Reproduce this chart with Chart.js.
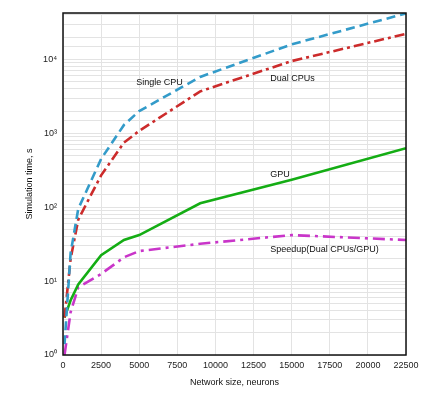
<!DOCTYPE html>
<html>
<head>
<meta charset="utf-8">
<script src="https://cdn.jsdelivr.net/npm/chart.js@4.4.0/dist/chart.umd.min.js"></script>
<style>
  html, body { margin: 0; padding: 0; background: #fff; }
  canvas { display: block; }
</style>
</head>
<body>
<canvas id="chart" width="438" height="398"></canvas>
<script>
// network sizes (neurons)
const networkSizes = [100, 500, 1000, 2500, 4000, 5000, 9000, 15000, 22500]

// simulation time, s
const singleCpu = [1.4, 24, 95, 450, 1300, 2000, 5800, 16000, 42000]
const dualCpus = [3.2, 20, 68, 270, 750, 1080, 3700, 9500, 22200]
const gpu = [3.2, 5.5, 9, 22.4, 36, 42, 113, 235, 630]
const speedup = [1.0, 3.8, 8.2, 12.5, 21, 25.5, 32, 42, 36]

const xTicks = [0, 2500, 5000, 7500, 10000, 12500, 15000, 17500, 20000, 22500]
const supers = { 0: '⁰', 1: '¹', 2: '²', 3: '³', 4: '⁴' }

// text labels next to the curves: [text, x, y]
const curveLabels = [
  ['Single CPU', 4800, 4900],
  ['Dual CPUs', 13600, 5500],
  ['GPU', 13600, 280],
  ['Speedup(Dual CPUs/GPU)', 13600, 27],
]

const toPoints = (values) => networkSizes.map((x, i) => ({ x, y: values[i] }))

const FONT = 'Liberation Sans, Arial, sans-serif'

const frameAndLabels = {
  id: 'frameAndLabels',
  afterDatasetsDraw(chart) {
    const { ctx, chartArea, scales } = chart
    ctx.save()
    ctx.font = `9px ${FONT}`
    ctx.fillStyle = '#111'
    ctx.textBaseline = 'middle'
    ctx.textAlign = 'left'
    curveLabels.forEach(([text, x, y]) => {
      ctx.fillText(text, scales.x.getPixelForValue(x), scales.y.getPixelForValue(y))
    })
    ctx.strokeStyle = '#111'
    ctx.lineWidth = 1.5
    ctx.strokeRect(chartArea.left, chartArea.top, chartArea.right - chartArea.left, chartArea.bottom - chartArea.top)
    ctx.restore()
  }
}

const chart = new Chart(document.getElementById('chart'), {
  type: 'line',
  data: {
    datasets: [
      {
        label: 'Single CPU',
        data: toPoints(singleCpu),
        borderColor: '#339bc9',
        borderWidth: 2.6,
        borderDash: [9, 5],
      },
      {
        label: 'Dual CPUs',
        data: toPoints(dualCpus),
        borderColor: '#cc2b2b',
        borderWidth: 2.6,
        borderDash: [10, 4, 3, 4],
      },
      {
        label: 'GPU',
        data: toPoints(gpu),
        borderColor: '#14ad14',
        borderWidth: 2.6,
      },
      {
        label: 'Speedup(Dual CPUs/GPU)',
        data: toPoints(speedup),
        borderColor: '#c935c9',
        borderWidth: 2.6,
        borderDash: [12, 5, 3, 5],
      },
    ]
  },
  options: {
    responsive: false,
    animation: false,
    devicePixelRatio: 1,
    layout: { padding: { left: 0, top: 13, right: 32, bottom: 0 } },
    elements: {
      point: { radius: 0 },
      line: { tension: 0, fill: false },
    },
    plugins: {
      legend: { display: false },
      tooltip: { enabled: false },
    },
    scales: {
      x: {
        type: 'linear',
        min: 0,
        max: 22500,
        afterBuildTicks: (scale) => { scale.ticks = xTicks.map(value => ({ value })) },
        ticks: {
          font: { family: FONT, size: 9 },
          color: '#222',
          padding: 5,
          maxRotation: 0,
          callback: (v) => String(v),
        },
        grid: { color: '#e3e3e3', drawTicks: false },
        border: { display: false },
        title: {
          display: true,
          text: 'Network size, neurons',
          font: { family: FONT, size: 9 },
          color: '#111',
          padding: { top: 0, bottom: 10 },
        },
        afterFit: (scale) => { scale.height = 43 },
      },
      y: {
        type: 'logarithmic',
        min: 1,
        max: 42500,
        ticks: {
          font: { family: FONT, size: 9 },
          color: '#222',
          padding: 6,
          autoSkip: false,
          callback: (v) => {
            const p = Math.log10(v)
            return Math.abs(p - Math.round(p)) < 1e-9 ? '10' + supers[Math.round(p)] : ''
          },
        },
        grid: { color: '#e3e3e3', drawTicks: false },
        border: { display: false },
        title: {
          display: true,
          text: 'Simulation time, s',
          font: { family: FONT, size: 9 },
          color: '#111',
          padding: { top: 24, bottom: 0 },
        },
        afterFit: (scale) => { scale.width = 63 },
      },
    },
  },
  plugins: [frameAndLabels],
})
</script>
</body>
</html>
